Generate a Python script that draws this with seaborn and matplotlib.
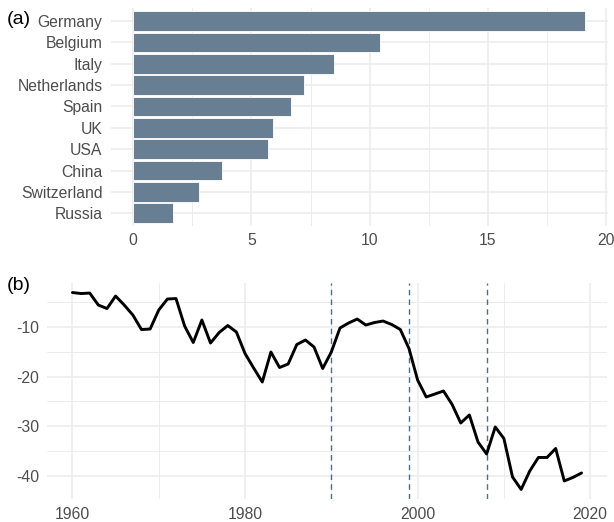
import matplotlib
matplotlib.use("Agg")
import matplotlib.pyplot as plt
import seaborn as sns
import pandas as pd
import numpy as np

# ---- data ----
countries = ["Germany", "Belgium", "Italy", "Netherlands", "Spain",
             "UK", "USA", "China", "Switzerland", "Russia"]
shares = [19.13, 10.44, 8.49, 7.23, 6.68, 5.92, 5.70, 3.75, 2.78, 1.67]

years = list(range(1960, 2020))
values = [-3.2, -3.4, -3.3, -5.7, -6.4, -3.9, -5.7, -7.7, -10.6, -10.5,
          -6.7, -4.5, -4.4, -9.9, -13.2, -8.7, -13.3, -11.2, -9.8, -11.1,
          -15.4, -18.3, -21.1, -15.1, -18.2, -17.5, -13.6, -12.7, -14.1, -18.4,
          -15.1, -10.3, -9.3, -8.5, -9.7, -9.2, -8.9, -9.6, -10.6, -14.4,
          -20.7, -24.1, -23.5, -22.9, -25.6, -29.3, -27.7, -33.1, -35.5, -30.1,
          -32.4, -40.1, -42.6, -38.9, -36.2, -36.2, -34.4, -40.9, -40.2, -39.3]
event_years = [1990, 1999, 2008]

x_ticks_a = [0, 5, 10, 15, 20]
x_ticks_b = [1960, 1980, 2000, 2020]
y_ticks_b = [-10, -20, -30, -40]

sns.set_style("white")
plt.rcParams["font.family"] = ["Liberation Sans", "DejaVu Sans"]
plt.rcParams["axes.unicode_minus"] = False

W, H = 614, 522
fig = plt.figure(figsize=(W / 100, H / 100), dpi=100)
fig.patch.set_facecolor("white")

def px_axes(left, top, right, bottom):
    return fig.add_axes([left / W, 1 - bottom / H, (right - left) / W, (bottom - top) / H])

grid_col = "#ececec"
tick_col = "#4d4d4d"
fs = 11.3

# ---- panel (a) ----
ax1 = px_axes(110.6, 8.3, 608.0, 226.0)
df_a = pd.DataFrame({"country": countries, "share": shares})
sns.barplot(data=df_a, y="country", x="share", order=countries, orient="h",
            color="#687e92", saturation=1, width=0.93, edgecolor="white",
            linewidth=0.6, ax=ax1, zorder=3)
ax1.set_xlim(-0.96, 20.09)
ax1.set_ylim(9.6, -0.6)
ax1.set_xticks(x_ticks_a)
ax1.set_xticks([2.5, 7.5, 12.5, 17.5], minor=True)
ax1.grid(True, which="major", axis="both", color=grid_col, lw=1.2, zorder=0)
ax1.grid(True, which="minor", axis="x", color=grid_col, lw=0.7, zorder=0)
ax1.set_axisbelow(True)
ax1.set_xlabel("")
ax1.set_ylabel("")
for s in ax1.spines.values():
    s.set_visible(False)
ax1.tick_params(axis="both", which="both", length=0, labelsize=fs, labelcolor=tick_col)
ax1.tick_params(axis="x", pad=5.0)
ax1.tick_params(axis="y", pad=5.8)
ax1.set_facecolor("white")

# ---- panel (b) ----
ax2 = px_axes(47.0, 282.7, 607.0, 499.3)
df_b = pd.DataFrame({"year": years, "value": values})
sns.lineplot(data=df_b, x="year", y="value", color="black", lw=2.1, ax=ax2, zorder=4)
for ey in event_years:
    ax2.axvline(ey, color="#4f6d87", lw=1.0, ls=(0, (4, 3)), zorder=3)
ax2.set_xlim(1957.05, 2021.95)
ax2.set_ylim(-44.57, -1.23)
ax2.set_xticks(x_ticks_b)
ax2.set_xticks([1970, 1990, 2010], minor=True)
ax2.set_yticks(y_ticks_b)
ax2.set_yticks([-5, -15, -25, -35], minor=True)
ax2.grid(True, which="major", color=grid_col, lw=1.2, zorder=0)
ax2.grid(True, which="minor", color=grid_col, lw=0.7, zorder=0)
ax2.set_axisbelow(True)
ax2.set_xlabel("")
ax2.set_ylabel("")
for s in ax2.spines.values():
    s.set_visible(False)
ax2.tick_params(axis="both", which="both", length=0, labelsize=fs, labelcolor=tick_col)
ax2.tick_params(axis="x", pad=5.3)
ax2.tick_params(axis="y", pad=5.8)
ax2.set_facecolor("white")

fig.text(7 / W, 1 - 20 / H, "(a)", ha="left", va="center", fontsize=14, color="black")
fig.text(7 / W, 1 - 285 / H, "(b)", ha="left", va="center", fontsize=14, color="black")

fig.savefig("out.png", dpi=100, facecolor="white")
